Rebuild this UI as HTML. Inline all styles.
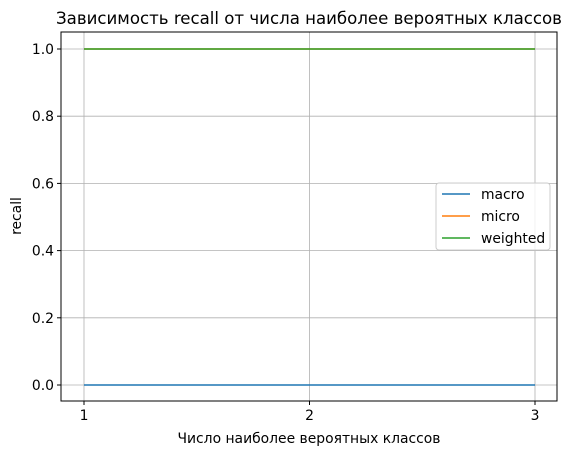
<!DOCTYPE html>
<html><head><meta charset="utf-8"><style>
body{margin:0;background:#fff;}
svg{display:block;font-family:"DejaVu Sans","Liberation Sans",sans-serif;}
</style></head><body>
<svg id="chart" width="572" height="455" xmlns="http://www.w3.org/2000/svg">
<rect width="572" height="455" fill="#fff"/>
<text x="309" y="24" text-anchor="middle" font-size="16.6" fill="#000">Зависимость recall от числа наиболее вероятных классов</text>
<g id="grid"></g>
<g id="series"></g>
<rect x="61" y="32" width="496" height="369" fill="none" stroke="#000" stroke-width="1"/>
<g id="ticks"></g>
<text x="309" y="443" text-anchor="middle" font-size="13.9">Число наиболее вероятных классов</text>
<text transform="translate(21,216) rotate(-90)" text-anchor="middle" font-size="13.9">recall</text>
<g id="legend"></g>
</svg>
<script>
const categories=[1,2,3];
const macroValues=[0,0,0];
const microValues=[1,1,1];
const weightedValues=[1,1,1];
const seriesNames=["macro","micro","weighted"];
const yTickLabels=["0.0","0.2","0.4","0.6","0.8","1.0"];
const yTickValues=[0,0.2,0.4,0.6,0.8,1.0];

const NS="http://www.w3.org/2000/svg";
const colors=["#1f77b4","#ff7f0e","#2ca02c"];
const X=v=>84+(v-1)*(535-84)/2;
const Y=v=>385-v*336;
function mk(tag,attrs,parent){const e=document.createElementNS(NS,tag);for(const k in attrs)e.setAttribute(k,attrs[k]);parent.appendChild(e);return e;}
const grid=document.getElementById('grid'),ticks=document.getElementById('ticks'),ser=document.getElementById('series'),leg=document.getElementById('legend');
categories.forEach(c=>{
  const g=mk('line',{x1:X(c),x2:X(c),y1:32,y2:401,stroke:'#b0b0b0','stroke-width':0.8},grid);
  
  
  const t=mk('line',{x1:X(c),x2:X(c),y1:401,y2:405,stroke:'#000'},ticks);
  
  
  const l=mk('text',{x:X(c),y:420,'text-anchor':'middle','font-size':13.9},ticks);
  l.textContent=String(c);
  
  
});
yTickValues.forEach((v,i)=>{
  const g=mk('line',{x1:61,x2:557,y1:Y(v),y2:Y(v),stroke:'#b0b0b0','stroke-width':0.8},grid);
  
  
  const t=mk('line',{x1:57,x2:61,y1:Y(v),y2:Y(v),stroke:'#000'},ticks);
  
  
  const l=mk('text',{x:54,y:Y(v)+5,'text-anchor':'end','font-size':13.9},ticks);
  l.textContent=yTickLabels[i];
  
  
});
[macroValues,microValues,weightedValues].forEach((vals,i)=>{
  const p=mk('polyline',{points:categories.map((c,j)=>X(c)+','+Y(vals[j])).join(' '),fill:'none',stroke:colors[i],'stroke-width':1.5},ser);
  
  
});
const box=mk('rect',{x:436,y:183,width:114,height:67,rx:3,fill:'#fff','fill-opacity':0.8,stroke:'#ccc'},leg);


seriesNames.forEach((n,i)=>{
  const y=194+i*22;
  const ln=mk('line',{x1:442,x2:470,y1:y,y2:y,stroke:colors[i],'stroke-width':1.5},leg);
  
  
  const t=mk('text',{x:481,y:y+5,'font-size':13.9},leg);
  t.textContent=n;
  
  
});
</script>
</body></html>
